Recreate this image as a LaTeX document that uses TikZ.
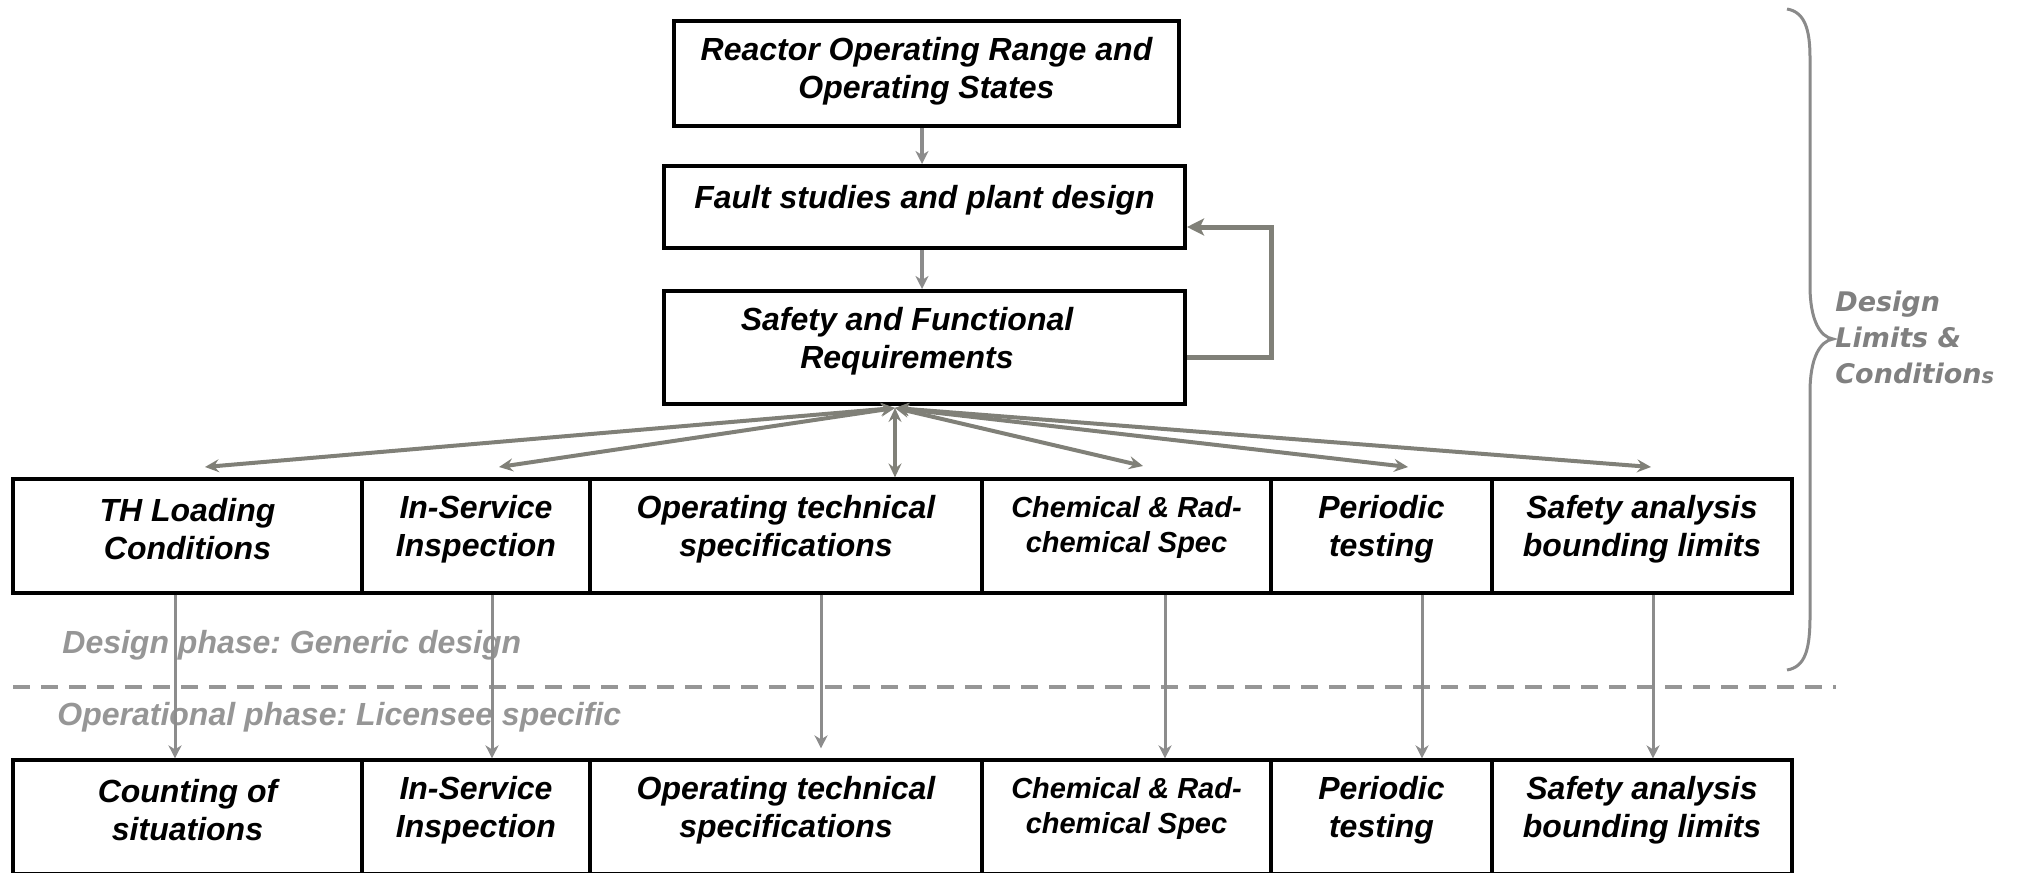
\documentclass[tikz,border=0pt]{standalone}
\usepackage{fontspec}
\setmainfont{Liberation Sans}
\newfontfamily\widesans{DejaVu Sans}[BoldItalicFont={DejaVu Sans Bold Oblique},ItalicFont={DejaVu Sans Oblique}]
\usetikzlibrary{arrows.meta}
\frenchspacing

\definecolor{fangray}{RGB}{128,128,120}
\definecolor{linkgray}{RGB}{140,140,140}
\definecolor{phasegray}{RGB}{150,150,150}
\definecolor{bracegray}{RGB}{138,138,138}
\definecolor{limitgray}{RGB}{128,128,128}

\begin{document}
\begin{tikzpicture}[x=0.5pt,y=-0.5pt,
  topbox/.style={draw=black,line width=2pt,inner sep=0pt},
  cell/.style={draw=black,line width=1.6pt,inner sep=0pt,minimum height=57pt},
  lbl/.style={align=center,inner sep=0pt,font=\bfseries\itshape\fontsize{16}{19}\selectfont},
  smalllbl/.style={align=center,inner sep=0pt,font=\bfseries\itshape\fontsize{14.5}{17.5}\selectfont},
  link/.style={draw=linkgray,line width=1.75pt,-{Stealth[length=6.5pt,width=6.5pt,inset=2pt]}},
  fan/.style={draw=fangray,line width=2pt,{Stealth[length=7pt,width=6.5pt,inset=2.5pt]}-{Stealth[length=7pt,width=6.5pt,inset=2.5pt]}},
  down/.style={draw=linkgray,line width=1.5pt,-{Stealth[length=6.5pt,width=6.5pt,inset=2pt]}},
  feedback/.style={draw=fangray,line width=2.5pt,-{Stealth[length=8.5pt,width=8.5pt,inset=2pt]}},
  phaseline/.style={draw=phasegray,line width=2pt,dash pattern=on 8.5pt off 5.5pt},
  phase/.style={anchor=west,inner sep=0pt,text=phasegray,font=\bfseries\itshape\fontsize{16}{19}\selectfont},
  brace/.style={draw=bracegray,line width=1.5pt},
  limits/.style={anchor=west,align=left,inner sep=0pt,text=limitgray,font=\widesans\bfseries\itshape\fontsize{13.5}{18}\selectfont}
]
\useasboundingbox (0,0) rectangle (2022,872);

% upper chain
\node[topbox,minimum width=252.5pt,minimum height=52.5pt] (ror) at (926.5,73.5) {};
\node[lbl] (rort) at (926.5,71) {Reactor Operating Range and\\Operating States};
\node[topbox,minimum width=260.5pt,minimum height=41pt] (fsp) at (924.5,207) {};
\node[lbl] (fspt) at (924.5,200) {Fault studies and plant design};
\node[topbox,minimum width=260.5pt,minimum height=56.5pt] (sfr) at (924.5,347.5) {};
\node[lbl] (sfrt) at (907,341) {Safety and Functional\\Requirements};

\coordinate (ax) at (922,0);
\draw[link] (ror.south -| ax) -- (fsp.north -| ax);
\draw[link] (fsp.south -| ax) -- (sfr.north -| ax);

% feedback loop
\coordinate (fbA) at (1271,357);
\coordinate (fbB) at (1271,227);
\draw[feedback,line cap=butt] (sfr.east |- fbA) -- (fbA) -- (fbB) -- (fsp.east |- fbB);

% design-phase row
\node[cell,minimum width=174.5pt] (th)  at (187.5,536) {};
\node[cell,minimum width=114pt]   (isi) at (476,536) {};
\node[cell,minimum width=196pt]   (ots) at (786,536) {};
\node[cell,minimum width=144.5pt] (chm) at (1126.5,536) {};
\node[cell,minimum width=110.5pt] (per) at (1381.5,536) {};
\node[cell,minimum width=150pt]   (sab) at (1642,536) {};
\node[lbl] (tht)  at (187.5,529) {TH Loading\\Conditions};
\node[lbl] (isit) at (476,529) {In-Service\\Inspection};
\node[lbl] (otst) at (786,529) {Operating technical\\specifications};
\node[smalllbl] (chmt) at (1126.5,527) {Chemical \& Rad-\\chemical Spec};
\node[lbl] (pert) at (1381.5,529) {Periodic\\testing};
\node[lbl] (sabt) at (1642,529) {Safety analysis\\bounding limits};

% operational-phase row
\node[cell,minimum width=174.5pt] (cs)   at (187.5,817) {};
\node[cell,minimum width=114pt]   (isi2) at (476,817) {};
\node[cell,minimum width=196pt]   (ots2) at (786,817) {};
\node[cell,minimum width=144.5pt] (chm2) at (1126.5,817) {};
\node[cell,minimum width=110.5pt] (per2) at (1381.5,817) {};
\node[cell,minimum width=150pt]   (sab2) at (1642,817) {};
\node[lbl] (cst)   at (187.5,810) {Counting of\\situations};
\node[lbl] (isi2t) at (476,810) {In-Service\\Inspection};
\node[lbl] (ots2t) at (786,810) {Operating technical\\specifications};
\node[smalllbl] (chm2t) at (1126.5,808) {Chemical \& Rad-\\chemical Spec};
\node[lbl] (per2t) at (1381.5,810) {Periodic\\testing};
\node[lbl] (sab2t) at (1642,810) {Safety analysis\\bounding limits};

% requirements fanned out to the design-phase row
\coordinate (hub) at (895,408);
\coordinate (t1) at (205,467);
\coordinate (t2) at (499,467);
\coordinate (t4) at (1143,466);
\coordinate (t5) at (1408,467);
\coordinate (t6) at (1651,467);
\draw[fan] (hub) -- (t1);
\draw[fan] (hub) -- (t2);
\draw[fan] (hub) -- (ots.north -| hub);
\draw[fan] (hub) -- (t4);
\draw[fan] (hub) -- (t5);
\draw[fan] (hub) -- (t6);

% phase separator
\coordinate (sepL) at (13,687);
\coordinate (sepR) at (1836,687);
\draw[phaseline] (sepL) -- (sepR);
\node[phase] (dp) at (62,645) {Design phase: Generic design};
\node[phase] (op) at (57,717) {Operational phase: Licensee specific};

% design-phase to operational-phase links
\coordinate (d1) at (175,0);
\coordinate (d2) at (492,0);
\coordinate (d3) at (821,0);
\coordinate (d4) at (1165,0);
\coordinate (d5) at (1422,0);
\coordinate (d6) at (1653,0);
\draw[down] (th.south -| d1) -- (cs.north -| d1);
\draw[down] (isi.south -| d2) -- (isi2.north -| d2);
\draw[down,shorten >=5pt] (ots.south -| d3) -- (ots2.north -| d3);
\draw[down] (chm.south -| d4) -- (chm2.north -| d4);
\draw[down] (per.south -| d5) -- (per2.north -| d5);
\draw[down] (sab.south -| d6) -- (sab2.north -| d6);

% brace on the right
\draw[brace] (1787,9) .. controls (1805,12) and (1810,30) .. (1810,58)
  -- (1810,286) .. controls (1810,320) and (1820,337) .. (1833,339)
  .. controls (1820,341) and (1810,358) .. (1810,392)
  -- (1810,616) .. controls (1810,650) and (1805,667) .. (1787,670);
\node[limits] (dlc) at (1835,337) {Design\\Limits \&\\Condition{\fontsize{10.5}{10}\selectfont s}};
\end{tikzpicture}
\end{document}
